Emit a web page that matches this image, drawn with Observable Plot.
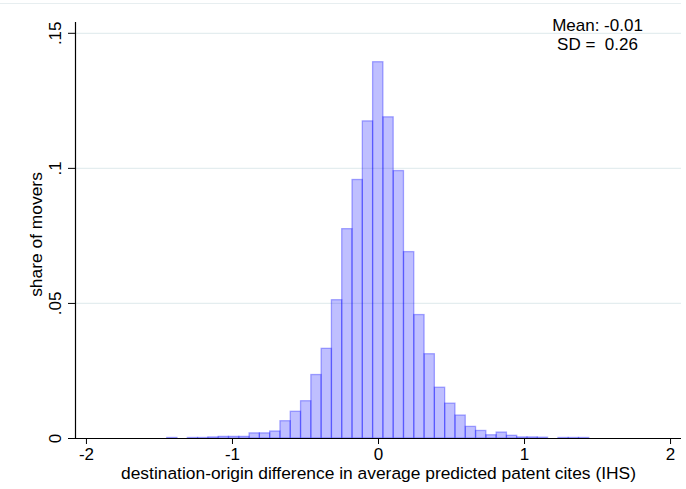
<!DOCTYPE html>
<html>
<head>
<meta charset="utf-8">
<script src="https://cdn.jsdelivr.net/npm/d3@7"></script>
<script src="https://cdn.jsdelivr.net/npm/@observablehq/plot@0.6"></script>
<style>
  body { margin: 0; background: #fff; }
  #chart { position: relative; width: 686px; height: 489px; }
  #chart svg { display: block; }
  #chart .edge { position: absolute; left: 0; top: 3px; width: 681px; height: 1px; background: #e7eef0; }
</style>
</head>
<body>
<div id="chart"><div class="edge"></div></div>
<script>
// Histogram bins: lower edge of the first bin and common width (IHS units)
const binStart = -1.447;
const binWidth = 0.0705;

// Share of movers in each bin, left to right
const shares = [
  0.0002, 0.0000, 0.0002, 0.0002, 0.0004, 0.0006, 0.0006, 0.0006,
  0.0019, 0.0019, 0.0026, 0.0064, 0.0099, 0.0138, 0.0235, 0.0332,
  0.0512, 0.0775, 0.0957, 0.1174, 0.1393, 0.1189, 0.0990, 0.0690,
  0.0457, 0.0312, 0.0188, 0.0129, 0.0085, 0.0043, 0.0028, 0.0012,
  0.0022, 0.0010, 0.0004, 0.0004, 0.0003, 0.0000, 0.0002, 0.0002,
  0.0002
];

// Axes
const xTicks = [-2, -1, 0, 1, 2];
const yTicks = [0, 0.05, 0.1, 0.15];
const yTickLabels = ["0", ".05", ".1", ".15"];
const xDomain = [-2.075, 2.075];
const yDomain = [0, 0.154];
const xTitle = "destination-origin difference in average predicted patent cites (IHS)";
const yTitle = "share of movers";

// Summary statistics shown in the corner
const meanValue = -0.01;
const sdValue = 0.26;

const bins = shares.map((share, i) => ({
  x1: binStart + i * binWidth,
  x2: binStart + (i + 1) * binWidth,
  share
}));

const fmtX = d => (d < 0 ? "-" + Math.abs(d) : String(d));
const statsText = `Mean: ${meanValue.toFixed(2)}\nSD = \u00a0${sdValue.toFixed(2)}`;

const chart = Plot.plot({
  width: 686,
  height: 489,
  marginLeft: 75,
  marginRight: 5,
  marginTop: 22,
  marginBottom: 51,
  style: { fontFamily: "'Liberation Sans', Arial, sans-serif", fontSize: "17px", color: "#000", background: "#fff" },
  x: { domain: xDomain },
  y: { domain: yDomain },
  marks: [
    Plot.gridY(yTicks.slice(1), { stroke: "#e4edef", strokeOpacity: 1, strokeWidth: 1.2 }),
    Plot.rectY(bins, {
      x1: "x1", x2: "x2", y: "share",
      fill: "#0000ff", fillOpacity: 0.25,
      stroke: "#0000ff", strokeOpacity: 0.32, strokeWidth: 1.3
    }),
    Plot.ruleY([0], { stroke: "#000", strokeWidth: 1.2 }),
    Plot.ruleX([xDomain[0]], { stroke: "#000", strokeWidth: 1.2 }),
    Plot.axisX({ ticks: xTicks, tickFormat: fmtX, tickSize: 6, tickPadding: 3, label: null, fontSize: 17 }),
    Plot.axisY({
      ticks: yTicks,
      tickFormat: d => yTickLabels[yTicks.indexOf(d)],
      tickSize: 7, tickRotate: -90, tickPadding: 8, label: null, fontSize: 17
    }),
    Plot.text([xTitle], { text: d => d, frameAnchor: "bottom", dy: 40, lineAnchor: "bottom", textAnchor: "middle", fontSize: 17.4 }),
    Plot.text([yTitle], { text: d => d, frameAnchor: "left", dx: -34, dy: 4, rotate: -90, lineAnchor: "bottom", textAnchor: "middle", fontSize: 17.4 }),
    Plot.text([statsText], { text: d => d, frameAnchor: "top-right", dx: -84, dy: -5, lineAnchor: "top", lineHeight: 1.12, textAnchor: "middle", fontSize: 17 })
  ]
});

document.getElementById("chart").prepend(chart);
</script>
</body>
</html>
